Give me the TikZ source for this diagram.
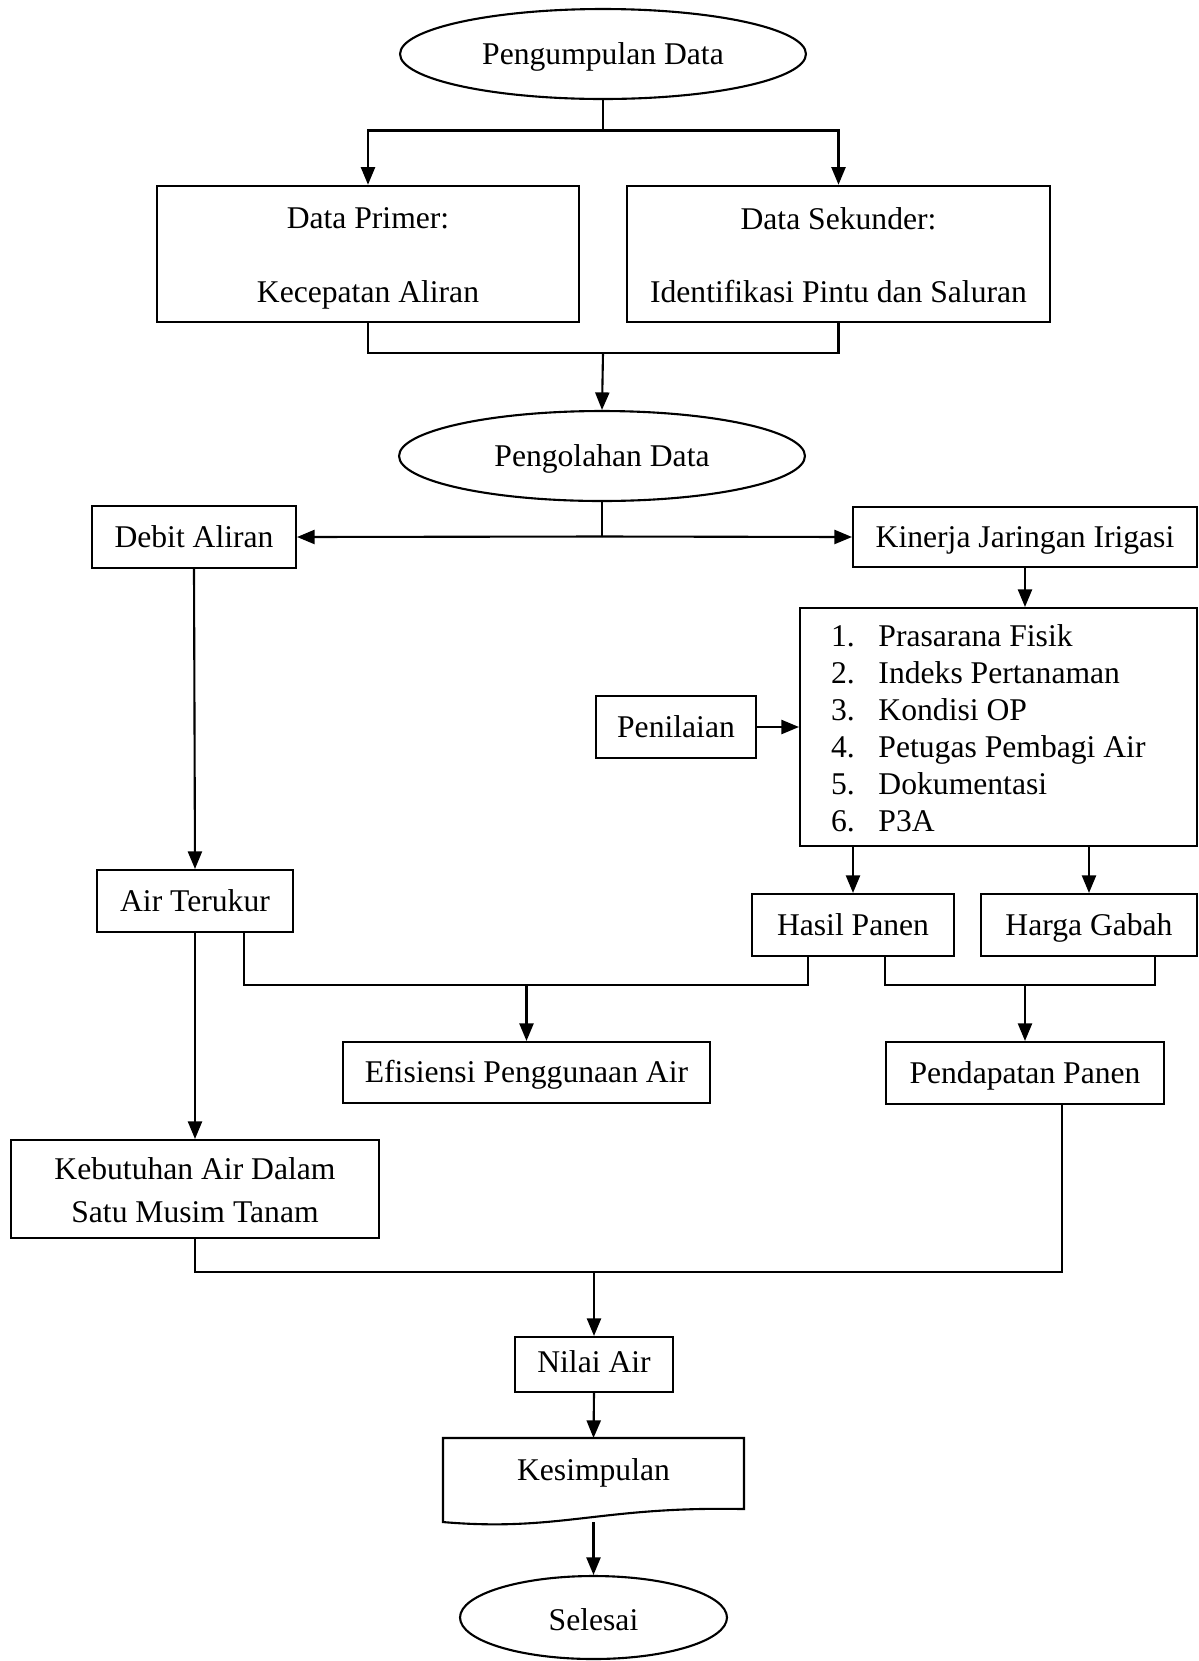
\documentclass[tikz,border=0pt]{standalone}
\usepackage{fontspec}
\setmainfont{Liberation Serif}
\usepackage{tikz}
\usetikzlibrary{arrows.meta,shapes.geometric}

\begin{document}
\begin{tikzpicture}[x=0.02cm,y=-0.02cm,
    line width=1.2pt,
    ->,>={Triangle[length=10pt,width=8pt]},
    font=\fontsize{18}{21}\selectfont,
    box/.style={rectangle,draw,inner sep=0pt,line width=1.2pt},
    oval/.style={ellipse,draw,inner sep=0pt,line width=1.2pt},
    txt/.style={inner sep=0pt,align=center,yshift=-0.06cm,
        execute at begin node=\strut,execute at end node=\strut},
    lijst/.style={inner sep=0pt}]

    \useasboundingbox (0,0) rectangle (1199,1661);

    \node[oval,
          minimum width = 8.12cm,
          minimum height = 1.8cm
          ] (kumpul) at (603,54) {};
    \node[txt] at (kumpul.center) {Pengumpulan Data};

    \node[box,
          minimum width = 8.44cm,
          minimum height = 2.73cm
          ] (primer) at (368,254) {};
    \node[txt,yshift=-0.07cm] at (primer.center) {Data Primer:\\[21pt]Kecepatan Aliran};

    \node[box,
          minimum width = 8.46cm,
          minimum height = 2.73cm
          ] (sekunder) at (838.5,254) {};
    \node[txt,yshift=-0.07cm] at (sekunder.center) {Data Sekunder:\\[21pt]Identifikasi Pintu dan Saluran};

    \node[oval,
          minimum width = 8.12cm,
          minimum height = 1.8cm
          ] (olah) at (602,456) {};
    \node[txt] at (olah.center) {Pengolahan Data};

    \node[box,
          minimum width = 4.08cm,
          minimum height = 1.24cm
          ] (debit) at (194,537) {};
    \node[txt] at (debit.center) {Debit Aliran};

    \node[box,
          minimum width = 6.88cm,
          minimum height = 1.2cm
          ] (kinerja) at (1025,537) {};
    \node[txt] at (kinerja.center) {Kinerja Jaringan Irigasi};

    \node[box,
          minimum width = 7.94cm,
          minimum height = 4.76cm
          ] (aspek) at (998.5,727) {};
    \node[lijst,anchor=west] at (830,731.6) {%
        \begin{tabular}{@{}l@{\hspace{13.5pt}}l@{}}
        1. & Prasarana Fisik\\
        2. & Indeks Pertanaman\\
        3. & Kondisi OP\\
        4. & Petugas Pembagi Air\\
        5. & Dokumentasi\\
        6. & P3A
        \end{tabular}};

    \node[box,
          minimum width = 3.2cm,
          minimum height = 1.24cm
          ] (penilaian) at (676,727) {};
    \node[txt] at (penilaian.center) {Penilaian};

    \node[box,
          minimum width = 3.92cm,
          minimum height = 1.24cm
          ] (terukur) at (195,901) {};
    \node[txt] at (terukur.center) {Air Terukur};

    \node[box,
          minimum width = 4.04cm,
          minimum height = 1.24cm
          ] (panen) at (853,925) {};
    \node[txt] at (panen.center) {Hasil Panen};

    \node[box,
          minimum width = 4.32cm,
          minimum height = 1.24cm
          ] (gabah) at (1089,925) {};
    \node[txt] at (gabah.center) {Harga Gabah};

    \node[box,
          minimum width = 7.34cm,
          minimum height = 1.22cm
          ] (efisiensi) at (526.5,1072.5) {};
    \node[txt] at (efisiensi.center) {Efisiensi Penggunaan Air};

    \node[box,
          minimum width = 5.56cm,
          minimum height = 1.24cm
          ] (pendapatan) at (1025,1073) {};
    \node[txt] at (pendapatan.center) {Pendapatan Panen};

    \node[box,
          minimum width = 7.35cm,
          minimum height = 1.96cm
          ] (kebutuhan) at (195,1189) {};
    \node[txt,yshift=-0.08cm] at (kebutuhan.center) {Kebutuhan Air Dalam\\[3.5pt]Satu Musim Tanam};

    \node[box,
          minimum width = 3.16cm,
          minimum height = 1.1cm
          ] (nilai) at (594,1364.5) {};
    \node[txt,yshift=0.05cm] at (nilai.center) {Nilai Air};

    \node[rectangle,
          inner sep=0pt,
          minimum width = 5.98cm,
          minimum height = 1.64cm
          ] (simpul) at (593.5,1480) {};
    \node[txt] at (593.5,1470) {Kesimpulan};

    \node[oval,
          minimum width = 5.34cm,
          minimum height = 1.66cm
          ] (selesai) at (593.5,1617.5) {};
    \node[txt,yshift=-0.05cm] at (selesai.center) {Selesai};

    % document shape
    \draw[-] (simpul.north west) -- (simpul.north east)
        -- ([yshift=0.26cm]simpul.south east)
        .. controls (600,1506) and (560,1532) .. (simpul.south west) -- cycle;

    % junctions
    \coordinate (pisah) at (603,130.5);
    \coordinate (gabung) at (603,353);
    \coordinate (cabang) at (602,536.5);
    \coordinate (efkiri) at (244,984.7);
    \coordinate (efkanan) at (808,984.7);
    \coordinate (eftengah) at (526.5,984.7);
    \coordinate (pdkiri) at (885,984.7);
    \coordinate (pdkanan) at (1155,984.7);
    \coordinate (pdtengah) at (1025,984.7);
    \coordinate (nakanan) at (1062,1272);
    \coordinate (natengah) at (594,1272);

    \draw[-] (kumpul.south) -- (pisah);
    \draw (pisah) -| (primer.north);
    \draw (pisah) -| (sekunder.north);
    \draw[-] (primer.south) |- (gabung);
    \draw[-] (sekunder.south) |- (gabung);
    \draw (gabung) -- (olah.north);

    \draw[-] (olah.south) -- (cabang);
    \draw (cabang) -- (debit.east);
    \draw (cabang) -- (kinerja.west);
    \draw (kinerja.south) -- (kinerja.south |- aspek.north);
    \draw (penilaian.east) -- (aspek.west);
    \draw (panen.north |- aspek.south) -- (panen.north);
    \draw (gabah.north |- aspek.south) -- (gabah.north);

    \draw (debit.south) -- (terukur.north);
    \draw (terukur.south) -- (kebutuhan.north);

    \draw[-] (terukur.south -| efkiri) |- (efkanan) -- (panen.south -| efkanan);
    \draw (eftengah) -- (efisiensi.north);
    \draw[-] (panen.south -| pdkiri) |- (pdkanan) -- (gabah.south -| pdkanan);
    \draw (pdtengah) -- (pendapatan.north);

    \draw[-] (kebutuhan.south) |- (nakanan) -- (pendapatan.south -| nakanan);
    \draw (natengah) -- (nilai.north);
    \draw (nilai.south) -- (simpul.north);
    \draw (simpul.south) -- (selesai.north);

\end{tikzpicture}
\end{document}
